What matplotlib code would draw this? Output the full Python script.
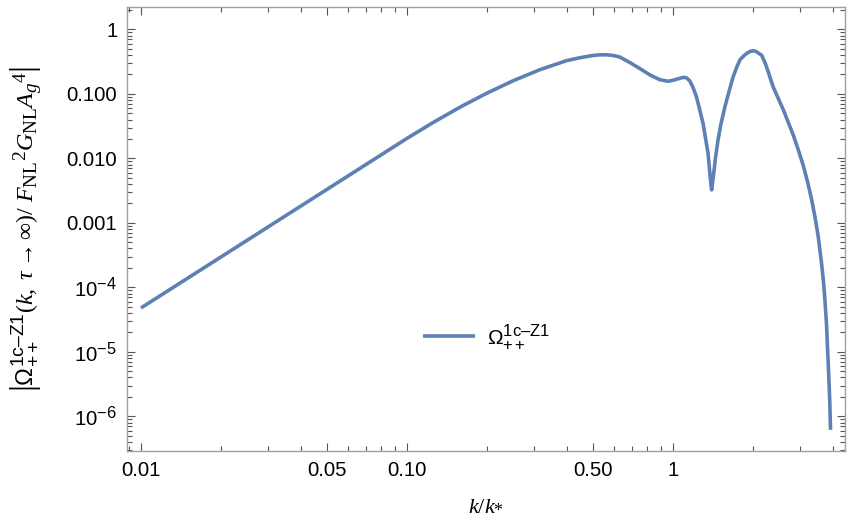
import matplotlib
matplotlib.use("Agg")
import matplotlib.pyplot as plt
from matplotlib.ticker import FixedLocator, NullFormatter, LogLocator
import matplotlib._mathtext as _mt

_mt.SHRINK_FACTOR = 0.8

plt.rcParams['mathtext.fontset'] = 'custom'
plt.rcParams['mathtext.rm'] = 'Liberation Serif'
plt.rcParams['mathtext.it'] = 'Liberation Serif:italic'
plt.rcParams['mathtext.sf'] = 'Liberation Sans'
plt.rcParams['font.family'] = ['Liberation Sans', 'DejaVu Sans']

# data (k/k*, |Omega|)
k_vals = [0.0100, 0.0631, 0.100, 0.1259, 0.1585, 0.1995, 0.2512, 0.3162,
          0.3981, 0.4467, 0.5012, 0.5309, 0.5623, 0.5957, 0.6310, 0.6918,
          0.7516, 0.8204, 0.8913, 0.9550, 1.000, 1.0904, 1.1220, 1.1553,
          1.1885, 1.2240, 1.2589, 1.2965, 1.3539, 1.3804, 1.3964, 1.4125,
          1.4454, 1.4757, 1.5136, 1.5668, 1.6218, 1.6827, 1.7378, 1.7865,
          1.8450, 1.9055, 1.9543, 2.0045, 2.0559, 2.1135, 2.1528, 2.2182,
          2.2803, 2.3335, 2.3823, 2.4547, 2.6002, 2.8314, 2.9580, 3.0903,
          3.2063, 3.3189, 3.4198, 3.5156, 3.6141, 3.6813, 3.7239, 3.7757,
          3.8107, 3.8459, 3.8815, 3.9084]
omega_vals = [4.79e-5, 6.08e-3, 2.04e-2, 3.63e-2, 6.24e-2, 0.1023, 0.1603,
              0.2371, 0.3273, 0.3631, 0.3936, 0.4027, 0.4027, 0.3936, 0.3715,
              0.3020, 0.2455, 0.1954, 0.1660, 0.1567, 0.1622, 0.1799, 0.1778,
              0.1596, 0.1259, 0.0902, 0.0575, 0.0349, 0.01197, 0.00501,
              0.00324, 0.00461, 0.01047, 0.01923, 0.0339, 0.0631, 0.1072,
              0.1841, 0.2630, 0.3388, 0.3890, 0.4315, 0.4571, 0.4656, 0.4519,
              0.4169, 0.3981, 0.3020, 0.2188, 0.1622, 0.1259, 0.0955, 0.0561,
              0.0229, 0.01349, 0.00759, 0.00427, 0.00229, 0.00120, 6.03e-4,
              2.40e-4, 1.17e-4, 6.31e-5, 2.63e-5, 1.07e-5, 4.68e-6, 1.78e-6,
              6.17e-7]

x_ticks = [0.01, 0.05, 0.1, 0.5, 1]
x_labels = ['0.01', '0.05', '0.10', '0.50', '1']
y_ticks = [1e-6, 1e-5, 1e-4, 1e-3, 1e-2, 1e-1, 1]
y_labels = [r'$\mathsf{10^{-6}}$', r'$\mathsf{10^{-5}}$', r'$\mathsf{10^{-4}}$',
            '0.001', '0.010', '0.100', '1']

fig = plt.figure(figsize=(8.55, 5.29), dpi=100)
ax = fig.add_axes([127/855, 1-451/529, (845-127)/855, (451-7)/529])

line_color = '#5E81B5'
ax.plot(k_vals, omega_vals, color=line_color, lw=2.6,
        solid_joinstyle='round', solid_capstyle='butt',
        label=r'$\mathsf{Ω^{1c–Z1}_{++}}$')

ax.set_xscale('log')
ax.set_yscale('log')
ax.set_xlim(0.00886, 4.43)
ax.set_ylim(2.9e-7, 2.22)

ax.xaxis.set_major_locator(FixedLocator(x_ticks))
ax.set_xticklabels(x_labels)
minor_x = [m * 10.0**e for e in (-3, -2, -1, 0) for m in range(2, 10)]
minor_x = [v for v in minor_x if all(abs(v - t) > 1e-9 for t in x_ticks)]
ax.xaxis.set_minor_locator(FixedLocator(minor_x))
ax.xaxis.set_minor_formatter(NullFormatter())

ax.yaxis.set_major_locator(FixedLocator(y_ticks))
ax.set_yticklabels(y_labels)
ax.yaxis.set_minor_locator(LogLocator(base=10, subs=range(2, 10), numticks=20))
ax.yaxis.set_minor_formatter(NullFormatter())

for s in ax.spines.values():
    s.set_color('#a0a0a0')
    s.set_linewidth(1.0)
ax.tick_params(which='both', direction='in', top=True, right=True,
               color='#555555', width=0.8, labelsize=14.7, labelcolor='black')
ax.tick_params(which='major', length=6, pad=7)
ax.tick_params(which='minor', length=3.5)

ax.set_xlabel(r'$k/k_{*}$', fontsize=16, labelpad=10)
ax.set_ylabel(r'$\left|\mathsf{Ω^{1c–Z1}_{++}}(k,\ \tau \rightarrow \infty)/\ F_{\mathrm{NL}}{}^{2}G_{\mathrm{NL}}A_{g}{}^{4}\right|$',
              fontsize=17.3, labelpad=17)

ax.legend(loc='center left', bbox_to_anchor=(0.412, 0.257), frameon=False,
          fontsize=15, handlelength=2.5, handletextpad=0.6, borderpad=0,
          borderaxespad=0)

fig.savefig('out.png', dpi=100)
